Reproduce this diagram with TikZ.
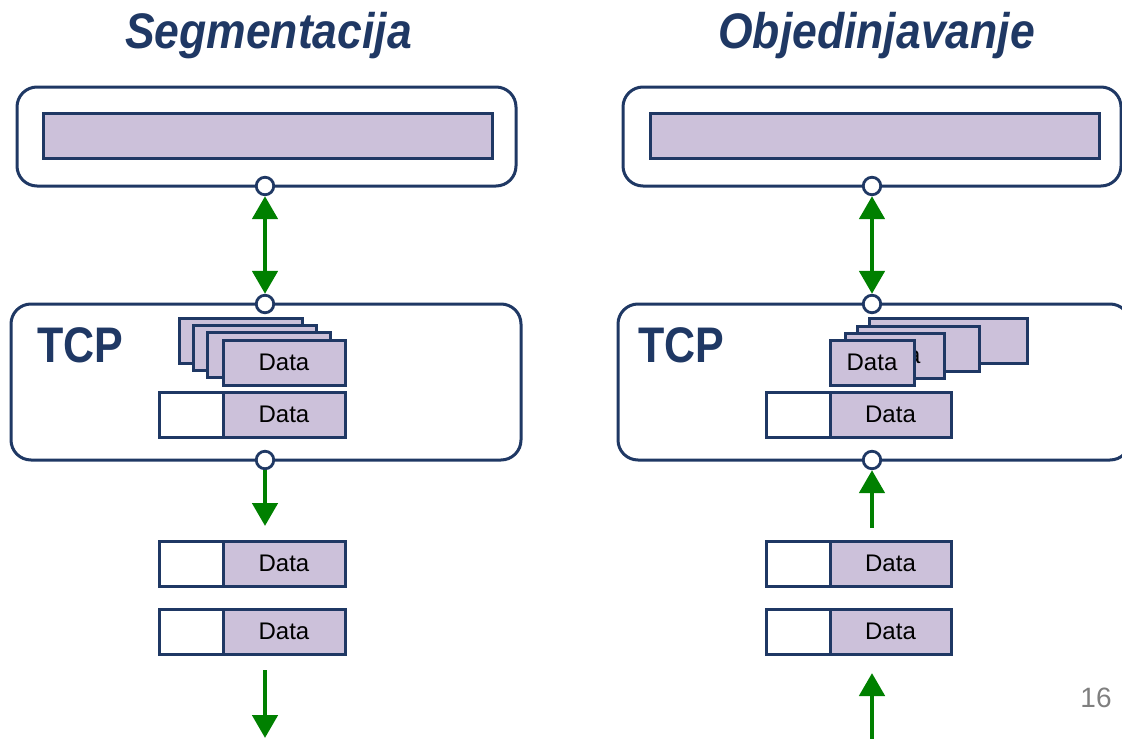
\documentclass[tikz,border=0pt]{standalone}
\usepackage{fontspec}
\setmainfont{Liberation Sans}
\usepackage{graphicx}
\usetikzlibrary{arrows.meta}
\definecolor{navy}{HTML}{1F3864}
\definecolor{lav}{HTML}{CCC1DA}
\definecolor{grn}{HTML}{008000}
\definecolor{pgray}{HTML}{7F7F7F}
\begin{document}
\begin{tikzpicture}[x=1pt,y=-1pt,
  title/.style={text=navy, font=\fontsize{50}{50}\selectfont\bfseries\itshape, anchor=base, inner sep=0pt},
  tcplabel/.style={text=navy, font=\fontsize{50}{50}\selectfont\bfseries, anchor=base west, inner sep=0pt},
  outerbox/.style={draw=navy, line width=3pt, rounded corners=20pt, fill=white, inner sep=0pt},
  bar/.style={draw=navy, line width=3pt, fill=lav, inner sep=0pt, minimum width=449pt, minimum height=45pt},
  hdr/.style={draw=navy, line width=3pt, fill=white, inner sep=0pt, minimum width=64pt, minimum height=45pt},
  dat/.style={draw=navy, line width=3pt, fill=lav, inner sep=0pt, minimum height=45pt, font=\fontsize{24}{24}\selectfont, text=black},
  port/.style={circle, draw=navy, line width=2.8pt, fill=white, minimum size=17.5pt, inner sep=0pt},
  flow/.style={draw=grn, line width=4.8pt, -{Triangle[length=23pt,width=25pt]}},
  flowboth/.style={draw=grn, line width=4.8pt, {Triangle[length=23pt,width=25pt]}-{Triangle[length=23pt,width=25pt]}},
]
\useasboundingbox (0,0) rectangle (1122,739);
\clip (0,0) rectangle (1122,739);

% titles
\node[title] (tL) at (268.5,48) {\scalebox{0.89}[1]{Segmentacija}};
\node[title] (tR) at (876.5,48) {\scalebox{0.89}[1]{Objedinjavanje}};

% application boxes
\node[outerbox, minimum width=499pt, minimum height=99pt] (appL) at (266.5,136.5) {};
\node[bar] (barL) at (267.5,135.5) {};
\node[outerbox, minimum width=498pt, minimum height=99pt] (appR) at (872,136.5) {};
\node[bar] (barR) at (874.5,136) {};

% TCP boxes
\node[outerbox, minimum width=510pt, minimum height=156pt] (tcpBL) at (266,382) {};
\node[outerbox, minimum width=512pt, minimum height=156pt] (tcpBR) at (874,382) {};
\node[tcplabel] (tcpL) at (37,362) {\scalebox{0.86}[1]{TCP}};
\node[tcplabel] (tcpR) at (638,362) {\scalebox{0.86}[1]{TCP}};

% ports
\node[port] (pL1) at (265,186) {};
\node[port] (pL2) at (265,304) {};
\node[port] (pL3) at (265,460) {};
\node[port] (pR1) at (872,186) {};
\node[port] (pR2) at (872,304) {};
\node[port] (pR3) at (872,460) {};

% left stack
\node[dat, minimum width=123pt] (sL1) at (240.5,340.5) {};
\node[dat, minimum width=123pt] (sL2) at (254.5,347.5) {};
\node[dat, minimum width=123pt] (sL3) at (268.5,355) {};
\node[dat, minimum width=122pt] (sL4) at (284,362.5) {Data};
% left rows
\node[hdr] (hL1) at (191,414.5) {};
\node[dat, minimum width=122pt] (dL1) at (284,414.5) {Data};
\node[hdr] (hL2) at (191,563.5) {};
\node[dat, minimum width=122pt] (dL2) at (284,563.5) {Data};
\node[hdr] (hL3) at (191,631.5) {};
\node[dat, minimum width=122pt] (dL3) at (284,631.5) {Data};

% right stack
\node[dat, minimum width=158pt] (sR1) at (948,341) {};
\node[dat, minimum width=122pt] (sR2) at (918,348.5) {Data};
\node[dat, minimum width=99pt] (sR3) at (895,355.5) {Data};
\node[dat, minimum width=84pt] (sR4) at (872,362.5) {Data};
% right rows
\node[hdr] (hR1) at (798,414.5) {};
\node[dat, minimum width=121pt] (dR1) at (890.5,414.5) {Data};
\node[hdr] (hR2) at (798,563.5) {};
\node[dat, minimum width=121pt] (dR2) at (890.5,563.5) {Data};
\node[hdr] (hR3) at (798,631.5) {};
\node[dat, minimum width=121pt] (dR3) at (890.5,631.5) {Data};

% arrows
\coordinate (aL) at (265,526);
\coordinate (bL0) at (265,670);
\coordinate (bL1) at (265,738);
\coordinate (aR) at (872,528);
\coordinate (bR0) at (872,742);
\coordinate (bR1) at (872,673);
\draw[flowboth] (pL1) -- (pL2);
\draw[flow] (pL3) -- (aL);
\draw[flow] (bL0) -- (bL1);
\draw[flowboth] (pR1) -- (pR2);
\draw[flow] (aR) -- (pR3);
\draw[flow] (bR0) -- (bR1);

% page number
\node[font=\fontsize{28}{28}\selectfont, text=pgray, anchor=base, inner sep=0pt] (pg) at (1096,707) {16};
\end{tikzpicture}
\end{document}
